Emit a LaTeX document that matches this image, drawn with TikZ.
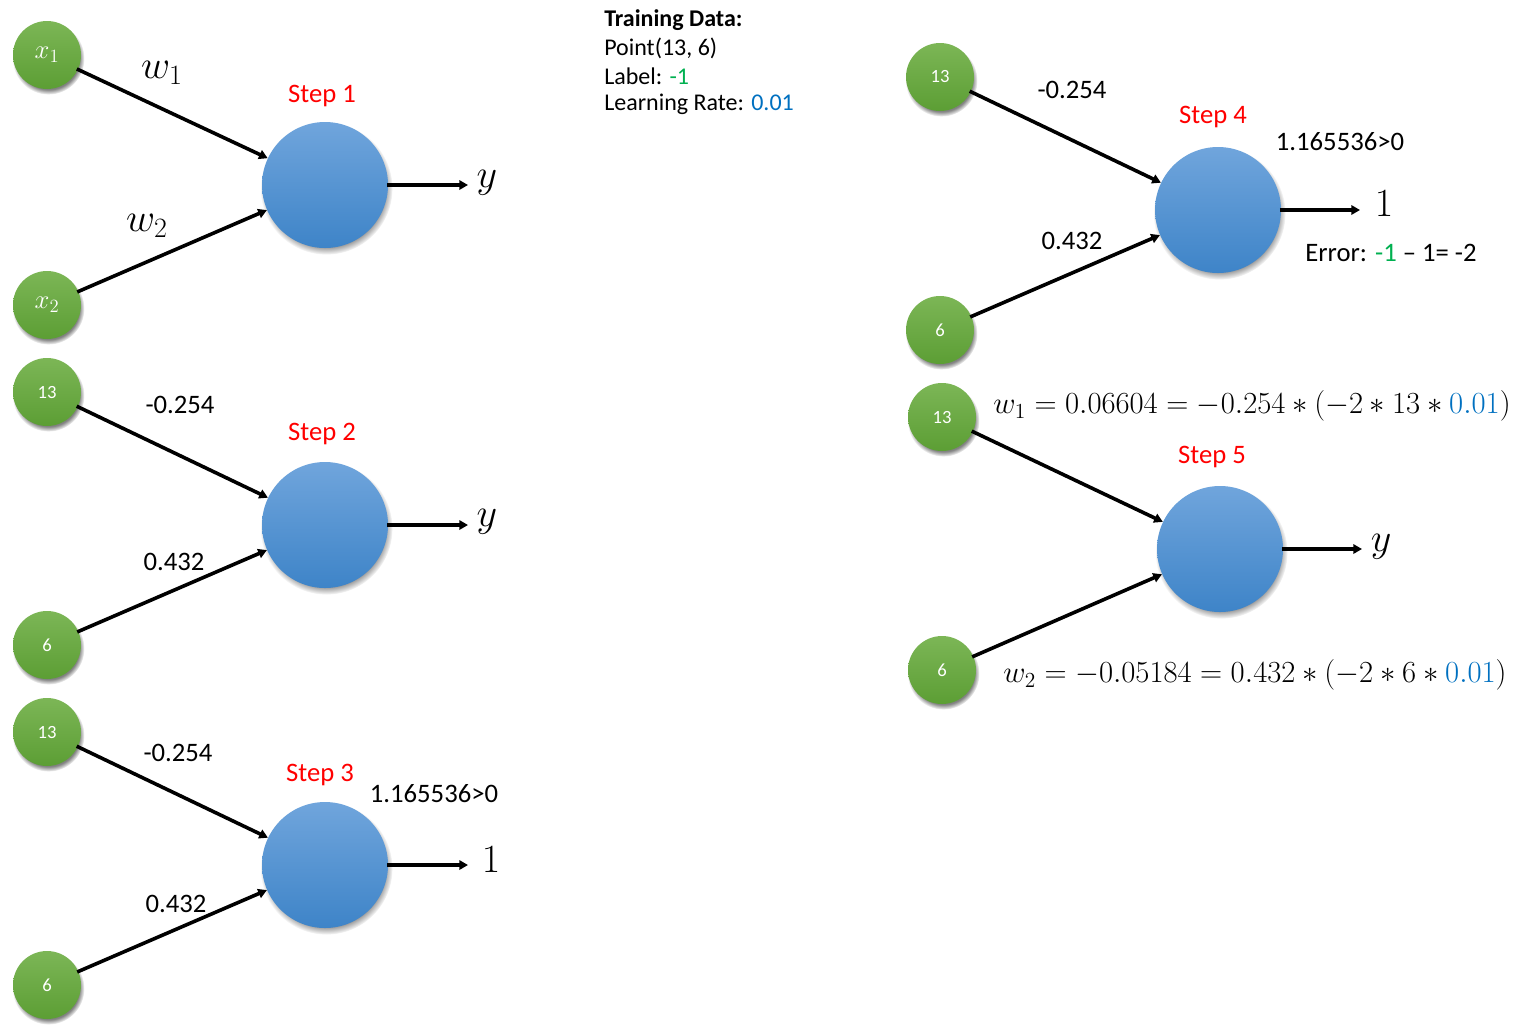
\RequirePackage{fix-cm}
\documentclass[tikz,border=0pt]{standalone}
\usepackage{fontspec}
\setmainfont{Carlito}
\usetikzlibrary{shadows,arrows.meta}
\definecolor{stepred}{RGB}{255,0,0}
\definecolor{lblgreen}{RGB}{0,176,80}
\definecolor{rateblue}{RGB}{0,112,192}
\definecolor{gtop}{RGB}{124,182,86}
\definecolor{gbot}{RGB}{92,158,52}
\definecolor{btop}{RGB}{112,165,220}
\definecolor{bbot}{RGB}{62,132,200}
\tikzset{
  inp/.style={circle, minimum size=51pt, inner sep=0pt, top color=gtop, bottom color=gbot,
    circular drop shadow={shadow xshift=1pt, shadow yshift=-2.5pt, shadow scale=1.06},
    text=white, font=\fontsize{14}{14}\selectfont},
  neuron/.style={circle, minimum size=94.5pt, inner sep=0pt, top color=btop, bottom color=bbot,
    circular drop shadow={shadow xshift=1pt, shadow yshift=-2.5pt, shadow scale=1.05}},
  wire/.style={line width=2.7pt, -{Triangle[length=6.5pt,width=7pt]}, shorten <=-1pt},
  lbl/.style={inner sep=0pt, font=\fontsize{20}{22}\selectfont},
  steplbl/.style={inner sep=0pt, text=stepred, font=\fontsize{20}{22}\selectfont},
  outlbl/.style={inner sep=0pt, font=\fontsize{30}{32}\selectfont},
  eqlbl/.style={inner sep=0pt, font=\fontsize{23}{26}\selectfont},
  info/.style={inner sep=0pt, anchor=west, font=\fontsize{18}{20}\selectfont},
  xlbl/.style={font=\fontsize{20}{20}\selectfont},
}
\begin{document}
\begin{tikzpicture}[x=0.75pt,y=-0.75pt]
\useasboundingbox (0,0) rectangle (1515,1032);

% ---- Step 1 ----
\node[inp,xlbl] (a1) at (47,55) {$x_1$};
\node[inp,xlbl] (b1) at (47,305) {$x_2$};
\node[neuron] (n1) at (325,185) {};
\coordinate (o1) at (468,185);
\draw[wire] (a1) -- (n1);
\draw[wire] (b1) -- (n1);
\draw[wire] (n1.east) -- (o1);
\node[steplbl] (s1) at (322,96) {Step 1};
\node[outlbl] (w1a) at (162,73) {$w_1$};
\node[outlbl] (w2a) at (147,226) {$w_2$};
\node[outlbl] (y1) at (487,183) {$y$};

% ---- Step 2 ----
\node[inp] (a2) at (47,392) {13};
\node[inp] (b2) at (47,645) {6};
\node[neuron] (n2) at (325,525) {};
\coordinate (o2) at (468,525);
\draw[wire] (a2) -- (n2);
\draw[wire] (b2) -- (n2);
\draw[wire] (n2.east) -- (o2);
\node[steplbl] (s2) at (322,434) {Step 2};
\node[lbl] (u2) at (180,405) {-0.254};
\node[lbl] (v2) at (174,562) {0.432};
\node[outlbl] (y2) at (487,522) {$y$};

% ---- Step 3 ----
\node[inp] (a3) at (47,732) {13};
\node[inp] (b3) at (47,985) {6};
\node[neuron] (n3) at (325,865) {};
\coordinate (o3) at (468,865);
\draw[wire] (a3) -- (n3);
\draw[wire] (b3) -- (n3);
\draw[wire] (n3.east) -- (o3);
\node[steplbl] (s3) at (320,775) {Step 3};
\node[lbl] (u3) at (178,753) {-0.254};
\node[lbl] (v3) at (176,904) {0.432};
\node[lbl] (z3) at (434,794) {1.165536>0};
\node[outlbl] (r3) at (491,860) {$1$};

% ---- Training data ----
\node[info] (t0) at (604,20) {\textbf{Training Data:}};
\node[info] (t1) at (604,48) {Point(13, 6)};
\node[info] (t2) at (604,76) {Label: \textcolor{lblgreen}{-1}};
\node[info] (t3) at (604,104) {Learning Rate: \textcolor{rateblue}{0.01}};

% ---- Step 4 ----
\node[inp] (a4) at (940,77) {13};
\node[inp] (b4) at (940,330) {6};
\node[neuron] (n4) at (1218,210) {};
\coordinate (o4) at (1360,210);
\draw[wire] (a4) -- (n4);
\draw[wire] (b4) -- (n4);
\draw[wire] (n4.east) -- (o4);
\node[steplbl] (s4) at (1213,117) {Step 4};
\node[lbl] (u4) at (1072,90) {-0.254};
\node[lbl] (v4) at (1072,241) {0.432};
\node[lbl] (z4) at (1340,142) {1.165536>0};
\node[outlbl] (r4) at (1384,204) {$1$};
\node[lbl] (e4) at (1391,253) {Error: \textcolor{lblgreen}{-1} -- 1= -2};

% ---- Step 5 ----
\node[inp] (a5) at (942,417) {13};
\node[inp] (b5) at (942,670) {6};
\node[neuron] (n5) at (1220,549) {};
\coordinate (o5) at (1362,549);
\draw[wire] (a5) -- (n5);
\draw[wire] (b5) -- (n5);
\draw[wire] (n5.east) -- (o5);
\node[steplbl] (s5) at (1212,457) {Step 5};
\node[eqlbl] (q1) at (1252,406) {$w_1 = 0.06604 = -0.254 \ast (-2 \ast 13 \ast \textcolor{rateblue}{0.01})$};
\node[eqlbl] (q2) at (1255,675) {$w_2 = -0.05184 = 0.432 \ast (-2 \ast 6 \ast \textcolor{rateblue}{0.01})$};
\node[outlbl] (y5) at (1381,547) {$y$};
\end{tikzpicture}
\end{document}
